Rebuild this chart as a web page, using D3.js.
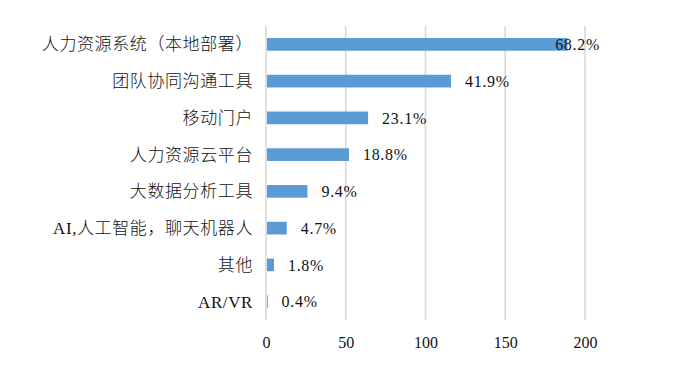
<!DOCTYPE html>
<html><head><meta charset="utf-8">
<script src="https://cdn.jsdelivr.net/npm/d3@7"></script>
<style>body{margin:0;background:#fff}</style>
</head><body>
<svg id="c" width="673" height="368"></svg>
<script>
const categories = ["人力资源系统（本地部署）","团队协同沟通工具","移动门户","人力资源云平台","大数据分析工具","AI,人工智能，聊天机器人","其他","AR/VR"];
const counts = [189,116,64,52,26,13,5,1];
const percentLabels = ["68.2%","41.9%","23.1%","18.8%","9.4%","4.7%","1.8%","0.4%"];
const xTicks = [0,50,100,150,200];

(function(){
const svg = d3.select("#c");
const mLeft = 266, mRight = 585, mTop = 26, mBottom = 320, plotRight = 600;
const x = d3.scaleLinear().domain([0,200]).range([mLeft,mRight]);
const y = d3.scaleBand().domain(categories).range([mTop,mBottom]).paddingInner(0.655).paddingOuter(0.3275);

svg.append("g").selectAll("line").data(xTicks).join("line")
  .attr("x1",d=>x(d)).attr("x2",d=>x(d)).attr("y1",mTop).attr("y2",mBottom)
  .attr("stroke","#d9d9d9").attr("stroke-width",1.6);

const cats = categories.map((c,i)=>({c,v:counts[i],l:percentLabels[i]}));
svg.append("g").selectAll("rect").data(cats).join("rect")
  .attr("x",x(0)+1).attr("y",d=>y(d.c)).attr("width",d=>Math.max(0.8,x(d.v)-x(0)-1)).attr("height",y.bandwidth())
  .attr("fill","#5b9bd5");

const lab = svg.append("g").selectAll("text").data(cats).join("text")
  .attr("y",d=>y(d.c)+y.bandwidth()/2).attr("dy","0.36em")
  .attr("font-family","'Liberation Serif', serif").attr("font-size",16).attr("fill","#111")
  .attr("letter-spacing","0.7px")
  .text(d=>d.l);
lab.each(function(d){
  const w = this.getComputedTextLength();
  d3.select(this).attr("x", Math.min(x(d.v)+14, plotRight - w));
});

svg.append("g").selectAll("text").data(cats).join("text")
  .attr("x",mLeft-13).attr("y",d=>y(d.c)+y.bandwidth()/2).attr("dy","0.36em")
  .attr("text-anchor","end")
  .attr("font-family","'Liberation Serif', 'Noto Sans CJK SC', serif").attr("font-size",17).attr("font-weight",300)
  .attr("letter-spacing","0.6px").attr("fill","#111")
  .text(d=>d.c);

const xAxis = d3.axisBottom(x).tickValues(xTicks).tickSize(0).tickPadding(0);
const ax = svg.append("g").attr("transform",`translate(0,${mBottom})`).call(xAxis);
ax.select(".domain").remove();
ax.selectAll("text").attr("y",28).attr("dy",0)
  .attr("font-family","'Liberation Serif', serif").attr("font-size",16).attr("fill","#111");
})();
</script>
</body></html>
